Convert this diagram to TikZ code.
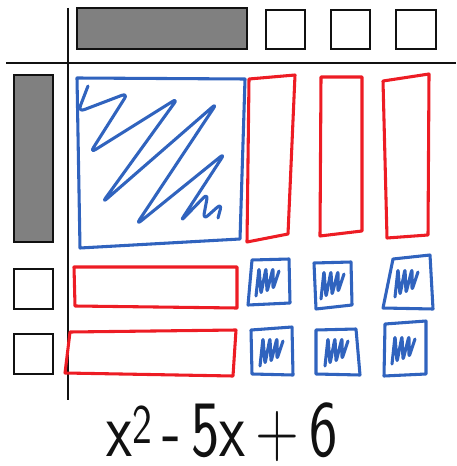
\documentclass[tikz,border=0pt]{standalone}
\usepackage{tikz}
\usepackage{graphicx}
\usetikzlibrary{positioning}
\definecolor{ink}{HTML}{111111}
\definecolor{tilegray}{HTML}{808080}
\definecolor{penblue}{HTML}{3063BE}
\definecolor{penred}{HTML}{ED1C24}
\tikzset{
  axis/.style={draw=ink,line width=1.6pt},
  bar/.style={draw=ink,line width=1.6pt,fill=tilegray},
  unit/.style={draw=ink,line width=1.6pt,fill=white},
  pen/.style={line width=2.3pt,line cap=round,line join=round},
  sqb/.style={pen,draw=penblue},
  rect/.style={pen,draw=penred},
  scrib/.style={pen,draw=penblue,rounded corners=2pt},
  poly/.style={font=\fontsize{60}{60}\sffamily,text=ink,inner sep=0pt,anchor=base},
}
\newcommand{\smallscrib}[2]{%
  \draw[scrib] (#1-12,#2+14) -- ++(3,-28) -- ++(2,26) -- ++(5,-26) -- ++(1,24)
    -- ++(6,-24) -- ++(0,21) -- ++(6,-18);}
\begin{document}
\begin{tikzpicture}[x=0.75pt,y=-0.75pt]
\useasboundingbox (0,0) rectangle (456,466);
% axes
\draw[axis] (68,8) -- (68,400);
\draw[axis] (6,63) -- (456,63);
% factor x-2 on top
\draw[bar] (77,8) rectangle (247,49);
\draw[unit] (266,10) rectangle (305,49);
\draw[unit] (331,10) rectangle (370,49);
\draw[unit] (396,10) rectangle (436,49);
% factor x-3 on the left
\draw[bar] (14,75) rectangle (53,242);
\draw[unit] (14,269) rectangle (53,309);
\draw[unit] (14,334) rectangle (53,374);
% x^2 tile
\draw[sqb] (77,78) -- (245,79) -- (240,239) -- (80,248) -- cycle;
\draw[scrib,rounded corners=5pt] (88,86) -- (78,112) -- (128,93) -- (90,153)
  -- (178,98) -- (102,203) -- (217,103) -- (136,225) -- (225,153)
  -- (180,222) -- (208,193) -- (203,220) -- (222,203) -- (218,218);
% -x tiles
\draw[rect] (249,79) -- (295,75) -- (288,234) -- (247,242) -- cycle;
\draw[rect] (321,77) -- (362,77) -- (362,231) -- (320,236) -- cycle;
\draw[rect] (383,81) -- (429,74) -- (428,235) -- (387,238) -- cycle;
\draw[rect] (74,267) -- (237,267) -- (237,308) -- (75,306) -- cycle;
\draw[rect] (70,332) -- (236,330) -- (233,376) -- (65,373) -- cycle;
% +1 tiles
\draw[sqb] (252,260) -- (289,259) -- (290,303) -- (248,305) -- cycle;
\draw[sqb] (314,263) -- (351,262) -- (352,305) -- (316,309) -- cycle;
\draw[sqb] (393,259) -- (430,255) -- (433,309) -- (383,308) -- cycle;
\draw[sqb] (251,330) -- (292,327) -- (293,375) -- (252,374) -- cycle;
\draw[sqb] (316,330) -- (356,329) -- (360,375) -- (316,374) -- cycle;
\draw[sqb] (385,324) -- (426,321) -- (426,374) -- (384,376) -- cycle;
\smallscrib{268}{282}
\smallscrib{333}{285}
\smallscrib{407}{283}
\smallscrib{272}{352}
\smallscrib{337}{352}
\smallscrib{404}{350}
% the polynomial
\node[poly] (expr) at (222,456)
  {\scalebox{0.75}[1]{x\textsuperscript{2}\hspace{10pt}-\hspace{10pt}5x\hspace{10pt}+\hspace{10pt}6}};
\end{tikzpicture}
\end{document}
